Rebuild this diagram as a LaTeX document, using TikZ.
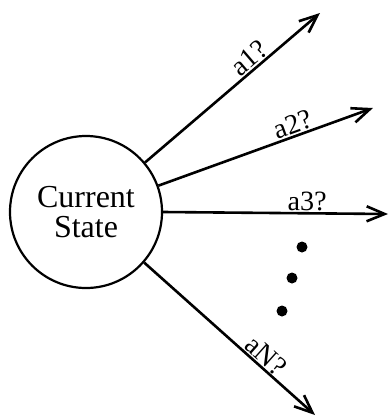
\documentclass[tikz,border=0pt]{standalone}
\usepackage{fontspec}
\setmainfont{Liberation Serif}
\usetikzlibrary{arrows.meta}
\tikzset{act/.style={line width=2.6pt,-{Straight Barb[length=18pt,width=15pt,line width=2.6pt]}},
  lab/.style={above=0pt,sloped,font=\fontsize{28}{28}\selectfont,inner sep=1pt}}
\begin{document}
\begin{tikzpicture}[x=1pt,y=-1pt]
  \useasboundingbox (0,0) rectangle (389,416);
  \node[circle,draw,line width=2.2pt,minimum size=152pt,inner sep=0pt,align=center,
    font=\fontsize{32}{30}\selectfont] (cur) at (86,212) {Current\\State};
  \coordinate (e1) at (320,13); \coordinate (e2) at (373,108);
  \coordinate (e3) at (388,214); \coordinate (eN) at (315,415);
  \draw[act] (cur.40) -- (e1) node[lab,pos=.64] {a1?};
  \draw[act] (cur.20) -- (e2) node[lab,pos=.645] {a2?};
  \draw[act] (cur.0) -- (e3) node[lab,pos=.64] {a3?};
  \draw[act] (cur.-41) -- (eN) node[lab,pos=.67] {aN?};
  \foreach \p in {(302,247),(292,278),(282,311)} \fill \p circle (5.5pt);
\end{tikzpicture}
\end{document}
